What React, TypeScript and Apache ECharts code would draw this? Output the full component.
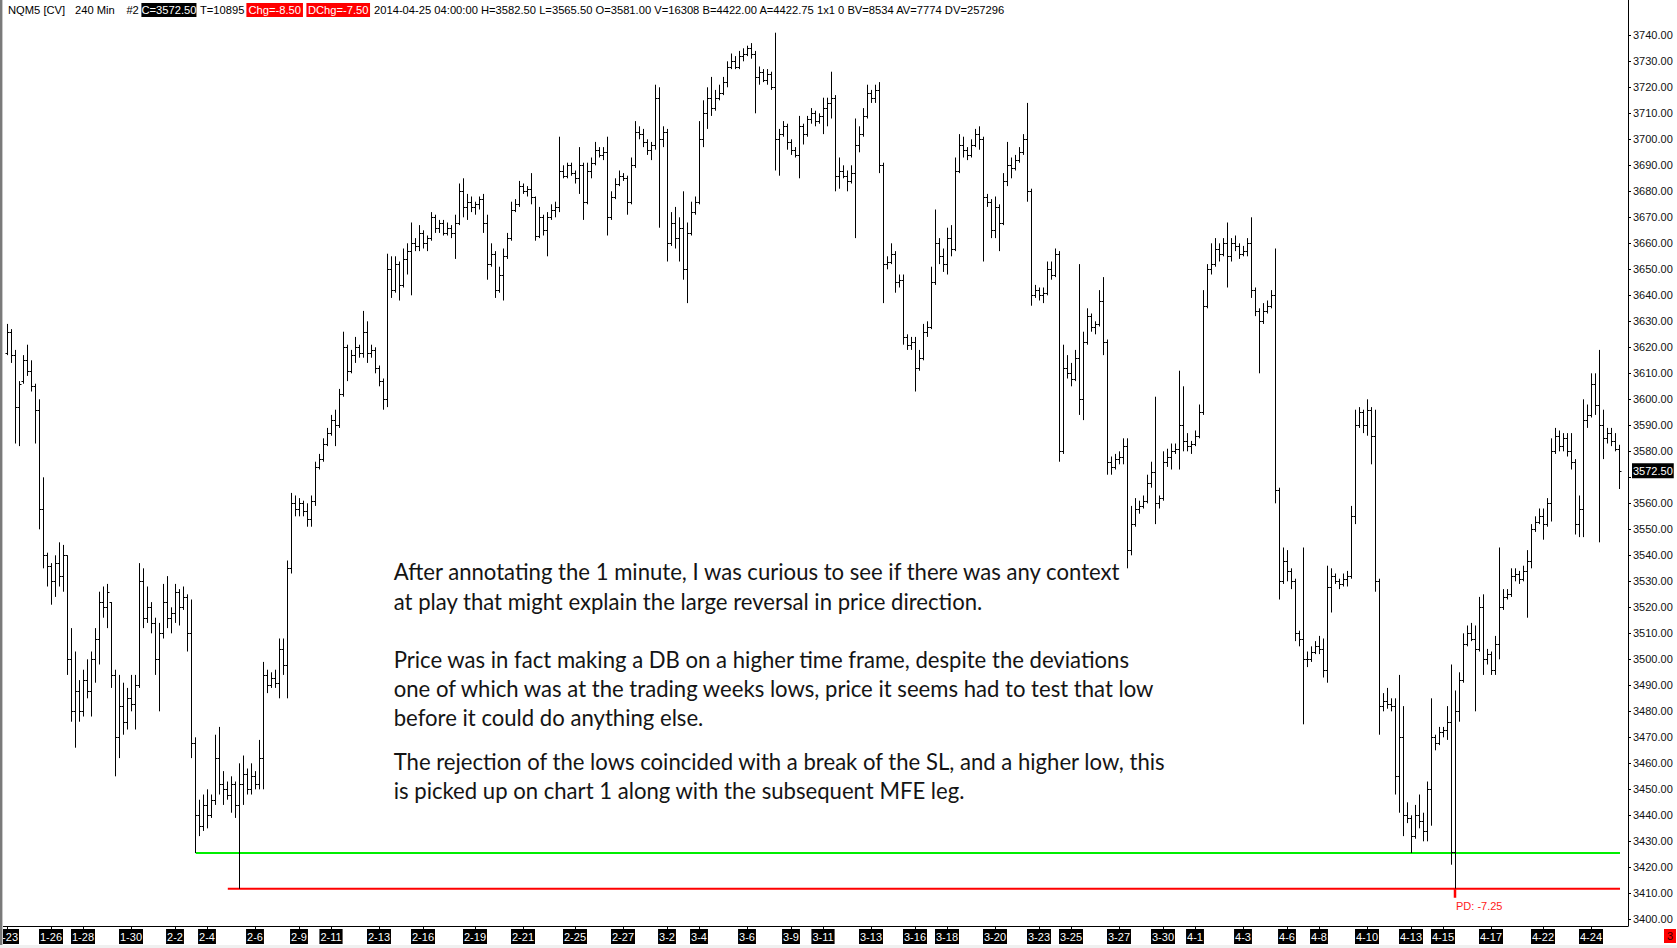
import React, { useEffect, useRef } from 'react';
import * as echarts from 'echarts';

// ---- OHLC data (240 min bars) ----
const opens = [
  3618,3626,3617,3597,3607,3615,3611,3605,3596,3558,
  3540,3536,3530,3537,3532,3540,3500,3480,3488,3480,
  3492,3488,3500,3508,3522,3520,3522,3494,3470,3482,
  3476,3485,3483,3490,3530,3516,3520,3514,3500,3510,
  3522,3516,3518,3526,3520,3524,3510,3468,3440,3436,
  3444,3440,3446,3462,3452,3450,3448,3452,3444,3452,
  3456,3450,3455,3452,3462,3494,3490,3493,3491,3504,
  3498,3535,3560,3558,3560,3557,3554,3561,3574,3577,
  3583,3587,3592,3590,3602,3620,3611,3617,3620,3618,
  3626,3618,3619,3612,3607,3600,3650,3642,3652,3644,
  3654,3657,3660,3659,3664,3660,3662,3670,3666,3668,
  3664,3666,3664,3668,3680,3674,3676,3674,3675,3677,
  3668,3652,3656,3642,3648,3655,3662,3673,3675,3682,
  3680,3681,3678,3663,3670,3665,3670,3673,3674,3688,
  3686,3690,3687,3685,3690,3676,3688,3691,3696,3694,
  3695,3670,3678,3683,3686,3685,3676,3690,3703,3702,
  3699,3696,3698,3716,3700,3703,3660,3668,3662,3666,
  3650,3664,3672,3676,3700,3710,3716,3712,3716,3718,
  3722,3728,3730,3728,3732,3733,3735,3733,3724,3726,
  3723,3725,3720,3700,3702,3705,3699,3696,3694,3705,
  3702,3708,3710,3707,3709,3712,3714,3716,3686,3688,
  3686,3684,3687,3698,3702,3709,3718,3716,3719,3690,
  3652,3653,3656,3645,3646,3624,3621,3622,3612,3616,
  3626,3628,3645,3660,3655,3652,3662,3658,3688,3698,
  3696,3694,3698,3702,3700,3678,3676,3665,3674,3668,
  3684,3690,3689,3692,3695,3700,3680,3640,3642,3640,
  3641,3650,3648,3656,3580,3612,3610,3608,3616,3600,
  3622,3632,3628,3629,3638,3622,3576,3574,3577,3578,
  3582,3542,3552,3558,3559,3561,3568,3572,3560,3562,
  3576,3578,3580,3581,3590,3584,3582,3583,3586,3595,
  3636,3650,3652,3658,3656,3660,3655,3660,3659,3656,
  3657,3660,3642,3634,3630,3634,3636,3640,3565,3530,
  3538,3534,3530,3510,3508,3500,3500,3503,3505,3504,
  3496,3528,3532,3530,3529,3531,3532,3555,3590,3595,
  3590,3596,3586,3530,3482,3484,3483,3482,3455,3470,
  3440,3439,3432,3440,3438,3434,3450,3470,3468,3472,
  3473,3476,3426,3480,3492,3506,3510,3508,3504,3520,
  3500,3502,3496,3506,3520,3524,3525,3532,3533,3531,
  3534,3538,3550,3553,3555,3552,3560,3580,3586,3582,
  3585,3580,3576,3552,3558,3592,3594,3606,3598,3590,
  3585,3587,3584,3581,
];

const highs = [
  3629,3627,3619,3607,3617,3621,3615,3606,3600,3570,
  3541,3537,3540,3545,3544,3540,3512,3503,3492,3496,
  3500,3503,3512,3526,3528,3529,3522,3496,3494,3491,
  3489,3494,3494,3537,3535,3528,3522,3516,3514,3529,
  3532,3520,3529,3527,3528,3525,3523,3470,3446,3448,
  3450,3448,3471,3474,3457,3453,3455,3453,3460,3463,
  3458,3460,3457,3469,3499,3496,3495,3496,3508,3508,
  3538,3564,3563,3562,3561,3560,3563,3576,3579,3585,
  3589,3594,3596,3604,3626,3621,3619,3624,3621,3634,
  3630,3621,3620,3613,3608,3656,3655,3655,3653,3658,
  3660,3668,3662,3667,3665,3663,3672,3671,3669,3669,
  3668,3667,3671,3683,3685,3679,3678,3676,3678,3679,
  3671,3660,3657,3651,3658,3664,3676,3677,3684,3683,
  3682,3687,3678,3674,3671,3672,3675,3676,3701,3690,
  3691,3691,3688,3697,3691,3691,3693,3699,3697,3697,
  3701,3680,3685,3688,3687,3686,3693,3707,3705,3704,
  3700,3699,3721,3720,3705,3704,3672,3674,3670,3680,
  3668,3676,3678,3707,3715,3720,3724,3719,3721,3724,
  3730,3733,3732,3734,3735,3736,3737,3734,3728,3727,
  3727,3726,3741,3704,3707,3706,3700,3697,3709,3706,
  3709,3712,3711,3710,3716,3716,3726,3717,3693,3690,
  3688,3690,3708,3705,3712,3721,3719,3721,3722,3691,
  3655,3660,3657,3648,3648,3625,3624,3624,3619,3629,
  3630,3651,3673,3662,3658,3666,3667,3693,3702,3701,
  3697,3700,3704,3705,3701,3679,3677,3678,3675,3687,
  3699,3693,3694,3697,3702,3714,3681,3644,3643,3643,
  3653,3653,3658,3657,3621,3617,3614,3619,3652,3626,
  3635,3633,3630,3642,3647,3623,3578,3579,3580,3585,
  3585,3559,3562,3561,3563,3571,3576,3601,3563,3580,
  3581,3583,3583,3611,3605,3587,3584,3588,3598,3642,
  3652,3660,3662,3660,3662,3668,3662,3663,3660,3659,
  3662,3670,3643,3635,3637,3638,3642,3658,3566,3543,
  3542,3535,3531,3511,3543,3503,3505,3507,3509,3508,
  3536,3535,3533,3531,3533,3534,3559,3596,3597,3596,
  3600,3597,3596,3531,3487,3489,3485,3485,3494,3482,
  3445,3440,3444,3448,3441,3453,3485,3471,3474,3474,
  3482,3498,3488,3495,3510,3513,3514,3513,3524,3525,
  3504,3503,3509,3543,3527,3527,3535,3535,3534,3536,
  3542,3552,3555,3558,3558,3562,3585,3589,3588,3587,
  3587,3587,3577,3563,3600,3598,3610,3610,3619,3596,
  3589,3589,3587,3582.5,
];

const lows = [
  3617,3614,3583,3582,3606,3609,3603,3583,3550,3535,
  3528,3521,3524,3528,3526,3494,3476,3466,3476,3478,
  3485,3478,3491,3498,3516,3512,3489,3455,3462,3471,
  3473,3480,3473,3489,3512,3514,3510,3494,3480,3508,
  3512,3510,3514,3513,3519,3503,3462,3425.5,3432,3434,
  3435,3439,3444,3448,3444,3446,3441,3439,3411.75,3444,
  3448,3448,3450,3450,3450,3487,3489,3489,3485,3494,
  3485,3533,3555,3555,3555,3551,3551,3559,3573,3576,
  3582,3586,3582,3589,3601,3607,3610,3614,3616,3616,
  3614,3616,3610,3605,3596,3597,3639,3641,3638,3643,
  3648,3640,3657,3657,3658,3657,3661,3664,3664,3663,
  3663,3662,3654,3667,3670,3669,3672,3671,3673,3664,
  3646,3651,3639,3641,3638,3654,3661,3672,3674,3679,
  3678,3675,3661,3662,3663,3655,3669,3670,3672,3685,
  3685,3686,3683,3679,3669,3675,3685,3690,3693,3692,
  3663,3669,3677,3682,3684,3671,3675,3689,3700,3697,
  3694,3692,3696,3666,3697,3653,3659,3658,3653,3646,
  3637,3663,3671,3675,3697,3704,3709,3711,3715,3717,
  3720,3727,3727,3727,3730,3732,3731,3710,3721,3722,
  3721,3719,3688,3686,3701,3696,3694,3693,3685,3698,
  3701,3706,3705,3706,3702,3705,3708,3680,3681,3685,
  3680,3683,3662,3695,3701,3708,3714,3714,3687,3637,
  3650,3652,3641,3643,3621,3619,3619,3603,3611,3615,
  3624,3627,3644,3652,3649,3648,3655,3657,3687,3693,
  3692,3693,3697,3696,3653,3674,3662,3662,3657,3667,
  3682,3685,3688,3691,3694,3676,3636,3639,3638,3637,
  3640,3646,3647,3576,3579,3608,3605,3607,3594,3592,
  3621,3626,3625,3628,3617,3571,3571,3573,3575,3575,
  3535,3540,3551,3556,3558,3560,3566,3552,3558,3561,
  3574,3573,3579,3573,3580,3580,3579,3582,3585,3594,
  3635,3648,3651,3653,3655,3643,3653,3657,3654,3655,
  3655,3639,3632,3610,3629,3633,3635,3560,3523,3529,
  3530,3527,3507,3505,3475,3497,3499,3502,3502,3493,
  3491,3518,3529,3527,3528,3528,3531,3552,3589,3587,
  3586,3575,3526,3471,3480,3481,3480,3448,3441,3432,
  3437,3425.5,3431,3435,3430,3430,3436,3465,3467,3470,
  3469,3421,3411.75,3476,3491,3505,3507,3480,3503,3494,
  3498,3494,3494,3500,3519,3523,3524,3530,3529,3530,
  3516,3535,3549,3552,3546,3551,3553,3579,3580,3580,
  3578,3573,3548,3547,3547,3589,3593,3594,3545,3577,
  3583,3582,3580,3565.5,
];

const closes = [
  3626,3617,3597,3606,3615,3611,3605,3596,3558,3540,
  3536,3530,3537,3532,3540,3500,3480,3488,3480,3492,
  3488,3500,3508,3522,3520,3526,3494,3470,3482,3476,
  3485,3483,3490,3530,3516,3520,3514,3500,3510,3522,
  3516,3518,3526,3520,3524,3510,3468,3440,3436,3444,
  3440,3446,3462,3452,3450,3448,3452,3444,3452,3456,
  3450,3455,3452,3462,3494,3490,3493,3491,3504,3498,
  3535,3560,3558,3560,3557,3554,3561,3574,3577,3583,
  3587,3592,3590,3602,3620,3611,3617,3620,3618,3626,
  3618,3619,3612,3607,3600,3650,3642,3652,3644,3654,
  3657,3660,3659,3664,3660,3662,3670,3666,3668,3664,
  3666,3664,3668,3680,3674,3676,3674,3675,3677,3668,
  3652,3656,3642,3648,3655,3662,3673,3675,3682,3680,
  3681,3678,3663,3670,3665,3670,3673,3674,3688,3686,
  3690,3687,3685,3690,3676,3688,3691,3696,3694,3695,
  3670,3678,3683,3686,3685,3676,3690,3703,3702,3699,
  3696,3698,3716,3700,3703,3660,3668,3662,3666,3650,
  3664,3672,3676,3700,3710,3716,3712,3716,3718,3722,
  3728,3730,3728,3732,3733,3735,3733,3724,3726,3723,
  3725,3720,3700,3702,3705,3699,3696,3694,3705,3702,
  3708,3710,3707,3709,3712,3714,3716,3686,3688,3686,
  3684,3687,3698,3702,3709,3718,3716,3719,3690,3652,
  3653,3656,3645,3646,3624,3621,3622,3612,3616,3626,
  3628,3645,3660,3655,3652,3662,3658,3688,3698,3696,
  3694,3698,3702,3700,3678,3676,3665,3674,3668,3684,
  3690,3689,3692,3695,3700,3680,3640,3642,3640,3641,
  3650,3648,3656,3580,3612,3610,3608,3616,3600,3622,
  3632,3628,3629,3638,3622,3576,3574,3577,3578,3582,
  3542,3552,3558,3559,3561,3568,3572,3560,3562,3576,
  3578,3580,3581,3590,3584,3582,3583,3586,3595,3636,
  3650,3652,3658,3656,3660,3655,3660,3659,3656,3657,
  3660,3642,3634,3630,3634,3636,3640,3565,3530,3538,
  3534,3530,3510,3508,3500,3500,3503,3505,3504,3496,
  3528,3532,3530,3529,3531,3532,3555,3590,3595,3590,
  3596,3586,3530,3482,3484,3483,3482,3455,3470,3440,
  3439,3432,3440,3438,3434,3450,3470,3468,3472,3473,
  3476,3426,3480,3492,3506,3510,3508,3504,3520,3500,
  3502,3496,3506,3520,3524,3525,3532,3533,3531,3534,
  3538,3550,3553,3555,3552,3560,3580,3586,3582,3585,
  3580,3576,3552,3558,3592,3594,3606,3598,3590,3585,
  3587,3584,3581,3572.5,
];

// ---- axis ticks ----
const dateTickBars = [0,11,19,31,42,50,62,73,81,93,104,117,129,142,154,165,173,185,196,204,216,227,235,247,258,266,278,289,297,309,320,328,340,351,359,371,384,396];
const dateTickLabels = ['1-23','1-26','1-28','1-30','2-2','2-4','2-6','2-9','2-11','2-13','2-16','2-19','2-21','2-25','2-27','3-2','3-4','3-6','3-9','3-11','3-13','3-16','3-18','3-20','3-23','3-25','3-27','3-30','4-1','4-3','4-6','4-8','4-10','4-13','4-15','4-17','4-22','4-24'];
const priceTicks = [3400,3410,3420,3430,3440,3450,3460,3470,3480,3490,3500,3510,3520,3530,3540,3550,3560,3570,3580,3590,3600,3610,3620,3630,3640,3650,3660,3670,3680,3690,3700,3710,3720,3730,3740];

// ---- drawn levels ----
const greenLevel = 3425.5;
const redLevel = 3411.75;
const greenFromBar = 47.2;
const redFromBar = 55.2;
const levelToBar = 403.25;
const pdBar = 362;
const pdText = 'PD: -7.25';
const lastPrice = 3572.5;

const headerParts: [string, number, string | null, number][] = [
  ['NQM5 [CV]', 8, null, 0],
  ['240 Min', 75, null, 0],
  ['#2', 126.4, null, 0],
  ['C=3572.50', 141.4, '#000000', 0],
  ['T=10895', 200, null, 0],
  ['Chg=-8.50', 246.4, '#ff0000', 2],
  ['DChg=-7.50', 306.4, '#ff0000', 1.5],
  ['2014-04-25 04:00:00 H=3582.50 L=3565.50 O=3581.00 V=16308 B=4422.00 A=4422.75 1x1 0 BV=8534 AV=7774 DV=257296', 374, null, 0],
];

const noteLines: [string, number][] = [
  ['After annotating the 1 minute, I was curious to see if there was any context', 571.7],
  ['at play that might explain the large reversal in price direction.', 601.3],
  ['Price was in fact making a DB on a higher time frame, despite the deviations', 659.4],
  ['one of which was at the trading weeks lows, price it seems had to test that low', 688.4],
  ['before it could do anything else.', 717.4],
  ['The rejection of the lows coincided with a break of the SL, and a higher low, this', 761.3],
  ['is picked up on chart 1 along with the subsequent MFE leg.', 790.9],
];

const W = 1677;
const H = 948;
const AX_FONT = 'Liberation Sans, Arial, sans-serif';

function fitFontSize(text: string, family: string, target: number): number {
  try {
    const ctx = document.createElement('canvas').getContext('2d');
    if (!ctx) return 21;
    ctx.font = `100px ${family}`;
    const w = ctx.measureText(text).width;
    return w > 0 ? (100 * target) / w : 21;
  } catch (e) {
    return 21;
  }
}

export default function App() {
  const ref = useRef<HTMLDivElement>(null);

  useEffect(() => {
    if (!ref.current) return;
    const chart = echarts.init(ref.current, undefined, { renderer: 'svg', width: W, height: H });

    const ohlc = opens.map((o, i) => [i, o, highs[i], lows[i], closes[i]]);

    const renderItem = (_params: any, api: any) => {
      const i = api.value(0);
      const pH = api.coord([i, api.value(2)]);
      const pL = api.coord([i, api.value(3)]);
      const pO = api.coord([i, api.value(1)]);
      const pC = api.coord([i, api.value(4)]);
      const xi = Math.round(pH[0]);
      const x = xi + 0.5;
      const yO = Math.round(pO[1]) + 0.5;
      const yC = Math.round(pC[1]) + 0.5;
      const y1 = pH[1];
      let y2 = pL[1];
      if (y2 - y1 < 1) y2 = y1 + 1;
      const st = { stroke: '#000000', lineWidth: 1 };
      return {
        type: 'group',
        children: [
          { type: 'line', shape: { x1: x, y1, x2: x, y2 }, style: st },
          { type: 'line', shape: { x1: xi - 1.5, y1: yO, x2: x, y2: yO }, style: st },
          { type: 'line', shape: { x1: x, y1: yC, x2: xi + 2.5, y2: yC }, style: st },
        ],
      };
    };

    const option: any = {
      animation: false,
      backgroundColor: '#ffffff',
      grid: { left: 0, right: 49, top: 0, bottom: 22, containLabel: false, outerBoundsMode: 'none' },
      xAxis: {
        type: 'value',
        min: -1.75,
        max: 405.25,
        axisLine: { show: true, onZero: false, lineStyle: { color: '#000', width: 1 } },
        axisTick: { show: true, customValues: dateTickBars, length: 3, lineStyle: { color: '#000' } },
        axisLabel: {
          show: true,
          customValues: dateTickBars,
          formatter: (v: number) => {
            const k = dateTickBars.indexOf(Math.round(v));
            return k >= 0 ? dateTickLabels[k] : '';
          },
          color: '#ffffff',
          backgroundColor: '#000000',
          padding: [1, 1, 1, 1],
          fontSize: 11,
          lineHeight: 13,
          fontFamily: AX_FONT,
          margin: 3,
        },
        splitLine: { show: false },
      },
      yAxis: {
        type: 'value',
        position: 'right',
        min: 3397.43,
        max: 3753.58,
        axisLine: { show: true, onZero: false, lineStyle: { color: '#000', width: 1 } },
        axisTick: { show: true, customValues: priceTicks, length: 3, lineStyle: { color: '#000' } },
        axisLabel: {
          show: true,
          customValues: priceTicks.filter((v) => Math.abs(v - lastPrice) > 6),
          formatter: (v: number) => v.toFixed(2),
          color: '#111111',
          fontSize: 11,
          fontFamily: AX_FONT,
          margin: 5,
        },
        splitLine: { show: false },
      },
      series: [
        {
          type: 'line',
          data: [[greenFromBar, greenLevel], [levelToBar, greenLevel]],
          symbol: 'none',
          silent: true,
          lineStyle: { color: '#00ee00', width: 2 },
          z: 2,
        },
        {
          type: 'line',
          data: [[redFromBar, redLevel], [levelToBar, redLevel]],
          symbol: 'none',
          silent: true,
          lineStyle: { color: '#ff0000', width: 2 },
          z: 2,
        },
        {
          type: 'custom',
          renderItem,
          data: ohlc,
          encode: { x: 0, y: [1, 2, 3, 4] },
          clip: false,
          silent: true,
          z: 3,
        },
        {
          type: 'line',
          data: [[pdBar, redLevel], [pdBar, redLevel - 3.5]],
          symbol: 'none',
          silent: true,
          lineStyle: { color: '#ff0000', width: 2.5 },
          z: 4,
        },
      ],
    };

    chart.setOption(option);

    const pd = chart.convertToPixel({ gridIndex: 0 }, [pdBar, redLevel]) as number[];
    const lp = chart.convertToPixel({ gridIndex: 0 }, [0, lastPrice]) as number[];

    const noteFamily = 'Lato, "Open Sans", sans-serif';
    const noteSize = fitFontSize(noteLines[0][0], 'Lato', 728);

    const graphic: any[] = [];
    graphic.push({ type: 'rect', x: 0, y: 0, shape: { width: 2, height: H }, style: { fill: '#7a7a7a' }, z: 10 });
    graphic.push({ type: 'rect', x: 2, y: 0, shape: { width: 1, height: H }, style: { fill: '#c8c8c8' }, z: 10 });
    graphic.push({ type: 'rect', x: 0, y: 945, shape: { width: W, height: 3 }, style: { fill: '#f0f0f0' }, z: 10 });

    headerParts.forEach(([t, x, bg, padX]) => {
      graphic.push({
        type: 'text',
        x,
        y: 3,
        z: 20,
        style: {
          text: t,
          fill: bg ? '#ffffff' : '#000000',
          font: `11.2px ${AX_FONT}`,
          backgroundColor: bg || 'transparent',
          padding: [1, padX, 1, padX],
          lineHeight: 12,
          align: 'left',
          verticalAlign: 'top',
          textAlign: 'left',
          textVerticalAlign: 'top',
        },
      });
    });

    noteLines.forEach(([t, y]) => {
      graphic.push({
        type: 'text',
        x: 393.7,
        y,
        z: 15,
        style: {
          text: t,
          fill: '#141414',
          font: `${noteSize.toFixed(2)}px ${noteFamily}`,
          align: 'left',
          verticalAlign: 'middle',
          textAlign: 'left',
          textVerticalAlign: 'middle',
        },
      });
    });

    graphic.push({
      type: 'text',
      x: pd[0] + 1,
      y: pd[1] + 17,
      z: 15,
      style: {
        text: pdText,
        fill: '#ff1a1a',
        font: `11px ${AX_FONT}`,
        align: 'left',
        verticalAlign: 'middle',
        textAlign: 'left',
        textVerticalAlign: 'middle',
      },
    });

    graphic.push({
      type: 'text',
      x: 1632,
      y: lp[1],
      z: 20,
      style: {
        text: lastPrice.toFixed(2),
        fill: '#ffffff',
        font: `11px ${AX_FONT}`,
        backgroundColor: '#000000',
        padding: [1, 1, 1, 1],
        lineHeight: 13,
        align: 'left',
        verticalAlign: 'middle',
        textAlign: 'left',
        textVerticalAlign: 'middle',
      },
    });

    graphic.push({ type: 'rect', x: 1664, y: 929, shape: { width: 12, height: 14 }, style: { fill: '#ff0000' }, z: 20 });
    graphic.push({
      type: 'text',
      x: 1670,
      y: 936,
      z: 21,
      style: {
        text: '3',
        fill: '#330000',
        font: `11px ${AX_FONT}`,
        align: 'center',
        verticalAlign: 'middle',
        textAlign: 'center',
        textVerticalAlign: 'middle',
      },
    });

    chart.setOption({ graphic });

    return () => {
      chart.dispose();
    };
  }, []);

  return (
    <div
      ref={ref}
      style={{ position: 'fixed', left: 0, top: 0, width: W, height: H, background: '#ffffff' }}
    />
  );
}
